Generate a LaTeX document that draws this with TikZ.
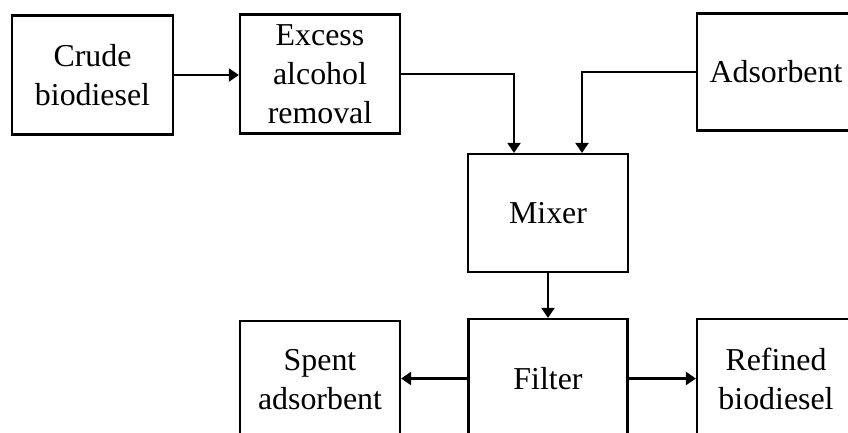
\documentclass[tikz,border=0pt]{standalone}
\usepackage{fontspec}
\setmainfont{Liberation Serif}
\usetikzlibrary{arrows.meta}
\begin{document}
\begin{tikzpicture}[x=1bp,y=-1bp,
  blk/.style={draw, line width=2.2bp, inner sep=0pt, align=center,
    font=\fontsize{32}{39}\selectfont},
  arr/.style={line width=2.2bp, -{Triangle[length=10bp,width=13bp]}}]
\useasboundingbox (0,0) rectangle (848,432);
\clip (0,0) rectangle (848,432);
\node[blk, minimum width=161bp, minimum height=119bp] (crude) at (92.5,75) {Crude\\biodiesel};
\node[blk, minimum width=160bp, minimum height=119bp] (excess) at (320,74) {Excess\\alcohol\\removal};
\node[blk, minimum width=158bp, minimum height=117bp] (ads) at (776,72) {Adsorbent};
\node[blk, minimum width=160bp, minimum height=118bp] (mixer) at (548,213) {Mixer};
\node[blk, minimum width=159bp, minimum height=119bp] (filter) at (548,378.5) {Filter};
\node[blk, minimum width=160bp, minimum height=117bp] (spent) at (320,379.5) {Spent\\adsorbent};
\node[blk, minimum width=158bp, minimum height=119bp] (refined) at (776,378.5) {Refined\\biodiesel};
\draw[arr] (crude.east) -- (crude.east -| excess.west);
\draw[arr] (excess.east) -| ([xshift=-34bp]mixer.north);
\draw[arr] (ads.west) -| ([xshift=34bp]mixer.north);
\draw[arr] (mixer.south) -- (filter.north);
\draw[arr] (filter.west) -- (filter.west -| spent.east);
\draw[arr] (filter.east) -- (filter.east -| refined.west);
\end{tikzpicture}
\end{document}
